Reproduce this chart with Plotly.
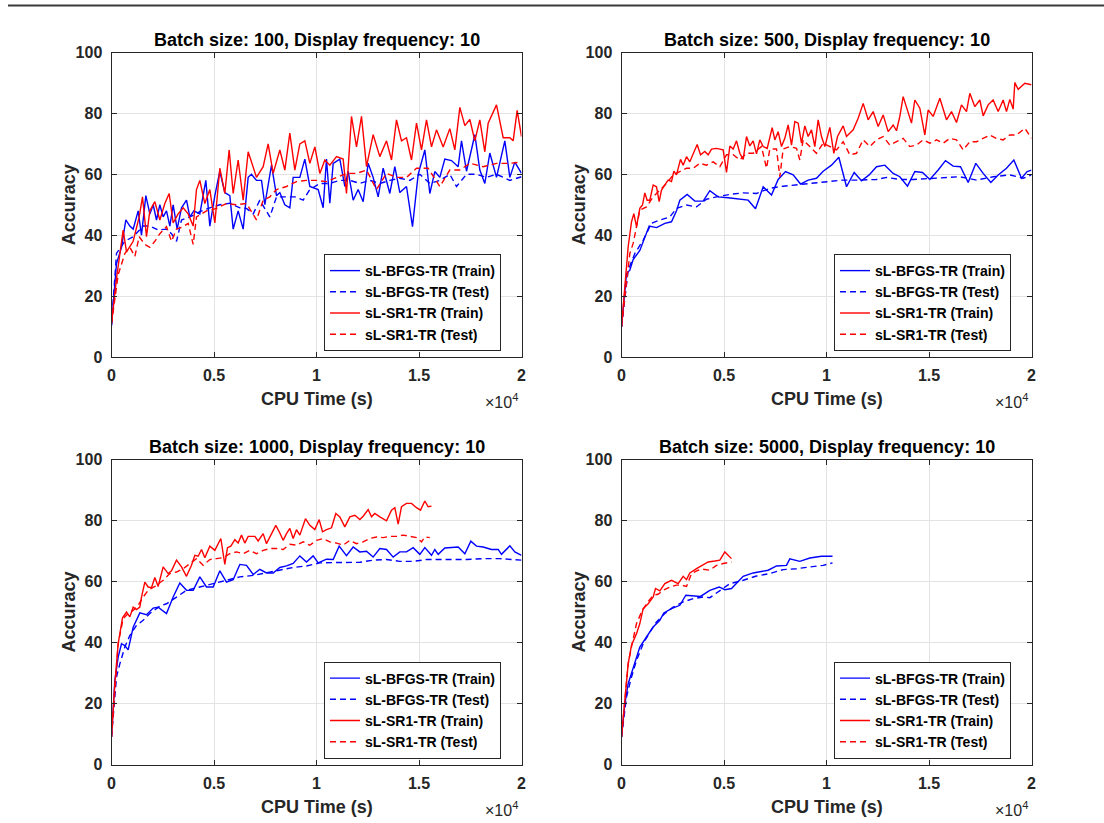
import plotly.graph_objects as go

# ---------------- data (CPU time in seconds, accuracy in %) ----------------
# Batch size 100
b100_bfgs_train_t = [0,244,488,699,894,1057,1301,1463,1675,1870,2033,2195,2358,2520,2683,2846,3008,3203,3415,3659,3821,4016,4309,4602,4797,5041,5285,5528,5772,5935,6179,6423,6667,6829,7073,7317,7480,7805,8049,8211,8455,8699,8862,9187,9431,9675,10081,10325,10488,10650,10813,11138,11382,11545,11789,12032,12276,12520,12764,13008,13252,13577,13821,14065,14390,14683,14959,15285,15528,15772,16016,16260,16585,16911,17073,17317,17724,17967,18211,18455,18780,19187,19431,19675,20000]
b100_bfgs_train_a = [10.4,30.7,36,45,43,42,48,40,53,47,50,45,50,46,48,43,50,42,49,51.5,46,48,47,58,43,53,61,54,53,42,48,42,59,60,58,58,50,63,53,54,50,49,59,59,65,56,55,49,65,50.5,63.6,65,56,61,51.5,55,51,63.6,59,52.6,62,53.7,62.5,54,56,42.8,60,68,53.7,60.9,59,65,64.5,62.5,71,61,73,61.4,57,67,59,71,59,64,60.3]
b100_bfgs_test_t = [0,244,650,1057,1545,1870,2276,2683,2927,3171,3415,3821,4309,4797,5285,5772,6260,6585,6911,7236,7724,8049,8537,8943,9350,9675,10163,10650,11138,11626,12114,12602,13089,13577,14065,14553,15041,15528,16016,16504,16829,17317,17805,18293,18780,19431,20000]
b100_bfgs_test_a = [10.4,34,38,39.5,43,43,41.7,42,40.5,38,45,46,47.7,49,50,50.5,49,48.8,47,51.5,46,52.6,52.6,52.6,51.5,55,57,57,58,58,57,58,57,58,58.7,58,60,57,58,60,56,60,60,59,60,58,59.2]
b100_sr1_train_t = [0,244,569,732,1057,1350,1512,1707,1870,2114,2358,2602,2813,3008,3252,3496,3740,3984,4146,4309,4553,4797,5041,5285,5528,5740,5935,6179,6423,6667,7073,7398,7642,7886,8211,8455,8699,8943,9187,9431,9675,9919,10163,10407,10650,10976,11301,11463,11707,11951,12195,12439,12764,13089,13415,13659,13902,14146,14390,14634,14878,15122,15366,15610,15854,16179,16504,16748,16992,17236,17480,17724,17967,18211,18374,18780,19106,19431,19593,19789,20000]
b100_sr1_train_a = [11,25.8,41.7,34.5,38,46,52.6,39.5,48,51,45,50.4,53.7,44,47,49,47,43,55,58,50.4,55,44,62,53.7,68,53.7,64.7,51.5,67.4,59,62.5,70,60.3,68,61.4,73.5,61.4,70,71,63.6,69,60.3,64.7,63,65.8,65,53.7,79,69,79,62.5,73,65.8,71,64.7,77.9,71,72,64.7,76.8,68,77.9,69,74.6,69,75,68,82,76,78,71,77.9,67.4,76.8,82.8,72,72,71,81,72.4]
b100_sr1_test_t = [0,325,650,894,1138,1350,1626,1870,2114,2358,2683,2927,3171,3496,3740,3984,4146,4634,5122,5610,6098,6585,7073,7398,7724,8049,8537,9024,9512,10000,10488,10976,11463,11951,12439,12927,13415,13902,14390,14878,15447,16016,16504,16992,17480,18130,18780,19431,20000]
b100_sr1_test_a = [11,27,34,36,33,39.5,37,36,38,40.5,42.8,38,42,42.8,43.9,37,46,48,48.8,50.4,50,50.4,45,51.5,52.6,55,56,57.6,58,58,57.6,59,60.3,60.3,61.4,55,60.3,59,59,62,62,56,61.4,61.4,63.6,62.5,63.6,63.6,64]

# Batch size 500
b500_bfgs_train_t = [0,244,407,569,894,1138,1350,1707,2114,2439,2683,2846,3203,3577,3984,4309,4715,5203,5691,6179,6537,6911,7317,7642,8000,8374,8732,9106,9512,9837,10244,10602,10976,11350,11707,12081,12439,12846,13252,13577,13951,14309,14683,15041,15447,15805,16179,16537,16911,17285,17642,18016,18374,18780,19138,19512,19789,20000]
b500_bfgs_train_a = [9.9,27.4,28.5,32,35,39.5,43,42.5,43.9,44.4,48,51.5,53.4,51.2,51.2,54.6,52.6,52.3,51.8,51.5,48.7,55.9,53.2,58.3,60.9,59.8,56.8,58.1,58.7,61,63,65.6,55.9,60.6,57.9,59.8,62.5,63,60.3,59.2,56.1,60.9,60.6,58.3,61.4,64.5,62.7,62.5,57.3,63.6,60.3,57.3,59.8,62,64.7,58.7,60.9,61.4]
b500_bfgs_test_t = [0,325,650,1057,1463,1870,2358,2683,3171,3659,4146,4634,5285,5935,6585,7236,7886,8537,9187,10000,10813,11626,12439,12927,13577,14228,15041,15691,16504,17317,18130,18943,19593,20000]
b500_bfgs_test_a = [9.9,28.5,34,38.4,43.9,45,46,48.8,49.9,49.3,51.8,52.6,53.4,53.9,53.7,55.4,56.1,56.5,57,57.6,58.1,58.1,58.3,59,58.3,58.3,58.7,59,59.2,58.1,59.2,59.8,58.7,59.8]
b500_sr1_train_t = [0,163,325,488,602,732,894,1024,1138,1252,1382,1545,1707,1837,1951,2114,2276,2439,2553,2683,2878,3008,3171,3333,3496,3691,3854,4065,4228,4390,4634,4959,5122,5285,5447,5610,5772,5935,6098,6260,6423,6585,6748,6911,7106,7350,7480,7642,7805,7967,8130,8293,8455,8618,8780,8943,9106,9268,9431,9593,9756,9919,10163,10358,10537,10813,10976,11301,11545,11789,12032,12276,12520,12764,13008,13252,13415,13577,13740,13984,14146,14309,14553,14797,14959,15203,15528,15854,16098,16341,16585,16829,16992,17236,17480,17642,17886,18130,18374,18618,18780,18943,19106,19187,19350,19675,20000]
b500_sr1_train_a = [9.9,23,36.2,44.4,47.1,42.8,48.8,49.9,53.9,51.5,51.5,56.5,55.9,51,54.8,56.5,58.1,57.6,61,59.8,64.9,63,65.8,64.1,66.8,69.8,66.4,67.5,66.4,68.3,68.5,68,60.6,69.3,68.3,71,66.9,64.9,72.4,69.3,71,66.7,71.3,69.1,68.5,75.3,71.3,74,69.1,71.8,76.2,69.6,77.3,76.8,70.2,75.9,72.4,74.6,69.1,77.9,72.4,69.1,75.4,66.9,72.4,75.9,72.4,74.6,78.4,83.3,77.9,80.6,75.7,79.5,74,76.2,74.3,79,85.5,80.6,76.8,84.4,81.7,72.9,81.1,79,85,77.9,80.6,77,82.8,80.6,86.6,82.2,84.4,79.2,82.8,84.4,80.6,84.4,80.6,84.6,81.4,90.1,87.9,89.9,89.4]
b500_sr1_test_t = [0,244,407,569,732,894,1220,1545,1870,2195,2520,2846,3171,3496,3821,4146,4472,4797,5122,5447,5772,6098,6423,6829,7073,7236,7561,7724,7886,8211,8537,8699,8862,9187,9512,9837,10163,10488,10813,11138,11463,11789,12114,12439,12764,13089,13415,13740,14065,14390,14715,15041,15366,15691,16016,16341,16667,16992,17317,17642,17967,18293,18618,18943,19268,19675,20000]
b500_sr1_test_a = [9.9,25.2,34,37.3,43.3,48.2,49.3,52.6,54.8,57,59.8,60.9,62,62,63.6,63,64.1,62.5,66.4,66.4,64.7,66.9,66.9,69.1,62,68.3,68.3,59.2,68.3,69.1,68.5,64.7,71.3,69.1,66.9,70.2,69.1,68,70.7,66.4,66.9,71.3,69.1,71.3,72.4,69.6,70.7,71.8,69.1,69.6,71.3,70.2,71.3,70.2,71.8,71.3,68,70.7,70.7,71.8,72.9,71.8,71.3,72.9,72.9,75.1,71.8]

# Batch size 1000
b1000_bfgs_train_t = [0,163,325,488,650,813,1057,1382,1707,2033,2276,2683,3008,3333,3659,3984,4309,4634,4959,5285,5610,5935,6260,6585,6911,7236,7561,7886,8211,8537,8862,9187,9512,9837,10081,10488,10813,11106,11463,11789,12114,12439,12764,13089,13415,13740,14065,14390,14715,15041,15285,15610,15772,15935,16260,16585,16911,17236,17528,17805,18130,18537,18862,19024,19431,19675,20000]
b1000_bfgs_train_a = [9,27.6,35.2,39.6,39,37.6,45,49.7,49.1,51.3,51.6,49.5,54.9,59.5,57.1,57.1,61.5,58.2,58.2,63.5,59.8,60.6,65.6,65.3,62.3,64,62.8,62.8,64.6,65.1,65.9,68.4,66.4,68.4,66.1,67.3,67.2,71.6,68.5,71.3,69.7,69.9,68,70.8,70.5,68,69.7,69.7,71.1,68.9,71.1,68.6,70.5,68.9,71,71.1,71.3,69.1,73.2,71.6,71.3,70.5,70.5,68.9,71.7,69.7,68.6]
b1000_bfgs_test_t = [0,244,407,650,894,1220,1545,1870,2358,2683,3171,3659,4309,4959,5610,6260,6911,7561,8211,8862,9512,10163,10813,11463,12114,12764,13415,14065,14715,15366,16341,17317,18130,18943,20000]
b1000_bfgs_test_a = [9,28.7,33,38.5,42.3,45.6,47.3,49.5,51.9,52.7,54.9,57.1,58.2,59.3,60.4,61.5,62,62.8,63.7,64.6,65.1,66.1,66.2,66.2,66.3,67,67.2,66.6,66.6,67.2,67.2,67.2,67.5,67.5,67]
b1000_sr1_train_t = [0,163,325,537,732,894,1057,1220,1382,1463,1626,1789,1951,2114,2276,2520,2764,2927,3171,3415,3659,3902,4065,4228,4390,4553,4797,5041,5333,5528,5658,5821,6016,6179,6341,6504,6667,6829,6992,7154,7398,7561,7805,8016,8211,8374,8537,8699,8862,9024,9187,9463,9675,9919,10130,10293,10488,10732,10943,11138,11382,11626,11870,12114,12276,12520,12683,12846,13089,13415,13659,13821,13984,14146,14390,14634,14878,15073,15285,15447,15610]
b1000_sr1_train_a = [9,26.5,39.6,48.1,50,48.4,51.6,50.8,51.6,54.9,59.8,58.2,58,61.3,58.4,64.8,62.6,63.5,67,64.8,61.7,65.3,68.6,68.3,70.5,67.8,71.6,70.2,74.1,65.6,71.1,71.6,73.7,72.6,75.2,72.6,74.8,74.8,74.8,73.3,75.7,72.4,75.9,78.4,75.9,73.5,75.7,77.4,74.1,77,75.2,80.6,78.4,77,80.3,76.3,77,77.6,82.3,81.2,77.9,81.2,81.7,80.3,81.4,83.6,81.2,82.3,81.2,79.9,83.4,84.2,78.8,84.5,85.6,85.6,84.2,83.4,86.4,84.5,84.7]
b1000_sr1_test_t = [0,163,325,569,813,1057,1301,1545,1789,2114,2520,2846,3171,3496,3821,4146,4472,4797,5122,5447,5772,6098,6423,6748,7073,7398,7724,8049,8374,8699,9024,9350,9675,10000,10325,10650,10976,11301,11626,11951,12276,12602,12927,13252,13577,13902,14228,14553,14878,15122,15285,15528]
b1000_sr1_test_a = [9,24.3,39.6,47.8,49.5,50.5,52.2,54.9,57.1,58.4,60.4,62.6,63.1,64.2,65.9,67.5,65.3,67.2,67.5,67.8,69.1,69.7,69.1,70.2,69.1,70.2,70.8,70.8,70.5,72.2,71.9,73,71.9,73.5,74.1,73,72.6,71.9,73.5,72.4,73,74.1,74.6,74.4,74.8,74.8,75.2,74.8,74.4,73,74.6,74.4]

# Batch size 5000
b5000_bfgs_train_t = [0,163,325,569,894,1220,1545,1870,2065,2439,2846,3138,3496,3854,4309,4764,5041,5366,5935,6423,7154,7561,8049,8211,8699,9187,9756,10293]
b5000_bfgs_train_a = [9,19.9,26.5,31.9,38.5,41.8,45.1,47.3,49.7,51.1,52.2,55.5,55.3,55.1,57.1,58.2,57.3,57.7,61.7,62.8,63.7,65.1,65.3,67.4,66.6,67.7,68.3,68.3]
b5000_bfgs_test_t = [0,244,488,732,1057,1382,1707,2114,2520,3008,3496,3984,4309,4797,5285,5935,6585,7236,7886,8537,9187,9837,10293]
b5000_bfgs_test_a = [9,22.1,28.7,34.1,39.6,43.4,46.7,49.5,51.6,53.3,54.4,54.9,54.7,57.1,59.3,60.4,61.8,62.6,63.9,64.2,64.8,65.3,66.1]
b5000_sr1_train_t = [0,163,325,488,732,894,1057,1301,1545,1659,1870,2114,2439,2764,3008,3171,3333,3659,3984,4228,4553,4797,5041,5366]
b5000_sr1_train_a = [9,22.1,33,39.1,42.9,46.2,51.1,52.7,54.9,57.7,56.9,59.3,60.4,59.3,61.7,60.6,62.8,64.2,65.3,66.4,66.7,67,69.7,67.5]
b5000_sr1_test_t = [0,163,325,537,732,976,1220,1545,1789,2033,2358,2683,2927,3171,3415,3740,3984,4309,4634,4959,5366]
b5000_sr1_test_a = [9,19.9,33,40.2,46.2,50,52.7,55.5,55.8,57.1,58.2,58.8,58.8,58.4,62.6,63.7,64,63.7,65.3,65.9,66.4]

titles = ["Batch size: 100, Display frequency: 10", "Batch size: 500, Display frequency: 10",
          "Batch size: 1000, Display frequency: 10", "Batch size: 5000, Display frequency: 10"]
series_names = ["sL-BFGS-TR (Train)", "sL-BFGS-TR (Test)", "sL-SR1-TR (Train)", "sL-SR1-TR (Test)"]
x_tickvals = [0, 5000, 10000, 15000, 20000]
x_ticktext = ["0", "0.5", "1", "1.5", "2"]
y_tickvals = [0, 20, 40, 60, 80, 100]

panels = [
    [(b100_bfgs_train_t, b100_bfgs_train_a), (b100_bfgs_test_t, b100_bfgs_test_a),
     (b100_sr1_train_t, b100_sr1_train_a), (b100_sr1_test_t, b100_sr1_test_a)],
    [(b500_bfgs_train_t, b500_bfgs_train_a), (b500_bfgs_test_t, b500_bfgs_test_a),
     (b500_sr1_train_t, b500_sr1_train_a), (b500_sr1_test_t, b500_sr1_test_a)],
    [(b1000_bfgs_train_t, b1000_bfgs_train_a), (b1000_bfgs_test_t, b1000_bfgs_test_a),
     (b1000_sr1_train_t, b1000_sr1_train_a), (b1000_sr1_test_t, b1000_sr1_test_a)],
    [(b5000_bfgs_train_t, b5000_bfgs_train_a), (b5000_bfgs_test_t, b5000_bfgs_test_a),
     (b5000_sr1_train_t, b5000_sr1_train_a), (b5000_sr1_test_t, b5000_sr1_test_a)],
]

# ---------------- layout geometry (pixels) ----------------
W, H = 1104, 823
FONT = "Liberation Sans, Arial, Helvetica, sans-serif"
AX = "#262626"
col_px = [(111.5, 521.5), (621.5, 1031.5)]
row_px = [(52.5, 357.0), (459.5, 764.5)]
styles = [dict(color="#0000ff", dash="solid"), dict(color="#0000ff", dash="6px,4px"),
          dict(color="#ff0000", dash="solid"), dict(color="#ff0000", dash="6px,4px")]

def px(x):
    return x / W

def py(y):
    return 1 - y / H

fig = go.Figure()
annotations = []
layout = {}
for i, series in enumerate(panels):
    r, c = divmod(i, 2)
    x0, x1 = col_px[c]
    y0, y1 = row_px[r]
    k = "" if i == 0 else str(i + 1)
    leg = "legend" if i == 0 else f"legend{i + 1}"
    for j, (t, a) in enumerate(series):
        fig.add_trace(go.Scatter(
            x=t, y=a, mode="lines", name=series_names[j],
            line=dict(color=styles[j]["color"], dash=styles[j]["dash"], width=1.4),
            xaxis="x" + k, yaxis="y" + k, legend=leg, showlegend=True))
    common = dict(showline=True, linecolor=AX, linewidth=1, mirror="ticks",
                  ticks="inside", ticklen=5, tickcolor=AX, tickwidth=1,
                  showgrid=True, gridcolor="#e3e3e3", gridwidth=1, zeroline=False,
                  tickfont=dict(family=FONT, size=16, color=AX, weight="bold"))
    layout["xaxis" + k] = dict(domain=[px(x0), px(x1)], anchor="y" + k, range=[0, 20000],
                               tickvals=x_tickvals, ticktext=x_ticktext, ticklabelstandoff=4,
                               **common)
    layout["yaxis" + k] = dict(domain=[py(y1), py(y0)], anchor="x" + k, range=[0, 100],
                               tickvals=y_tickvals, ticklabelstandoff=5, **common)
    layout[leg] = dict(x=px(x1 - 20.5), y=py(y1 - 6), xanchor="right", yanchor="bottom",
                       bgcolor="white", bordercolor=AX, borderwidth=1,
                       font=dict(family=FONT, size=14, color="black", weight="bold"),
                       tracegroupgap=0, itemwidth=30)
    cx = (x0 + x1) / 2
    annotations.append(dict(text=titles[i], x=px(cx), y=py(y0 - 13), xref="paper", yref="paper",
                            showarrow=False, xanchor="center", yanchor="middle",
                            font=dict(family=FONT, size=18, color="black", weight="bold")))
    annotations.append(dict(text="CPU Time (s)", x=px(cx), y=py(y1 + 42), xref="paper", yref="paper",
                            showarrow=False, xanchor="center", yanchor="middle",
                            font=dict(family=FONT, size=18, color=AX, weight="bold")))
    annotations.append(dict(text="Accuracy", x=px(x0 - 43), y=py((y0 + y1) / 2), xref="paper", yref="paper",
                            showarrow=False, xanchor="center", yanchor="middle", textangle=-90,
                            font=dict(family=FONT, size=18, color=AX, weight="bold")))
    annotations.append(dict(text="×10<sup>4</sup>", x=px(x1 - 2), y=py(y1 + 44), xref="paper", yref="paper",
                            showarrow=False, xanchor="right", yanchor="middle",
                            font=dict(family=FONT, size=16, color=AX)))

fig.update_layout(
    width=W, height=H, margin=dict(l=0, r=0, t=0, b=0, autoexpand=False),
    paper_bgcolor="white", plot_bgcolor="white",
    annotations=annotations,
    shapes=[dict(type="line", xref="paper", yref="paper", x0=px(8), x1=1, y0=py(5.5), y1=py(5.5),
                 line=dict(color="#3a3a3a", width=2))],
    **layout)

fig.write_html("out.html")
